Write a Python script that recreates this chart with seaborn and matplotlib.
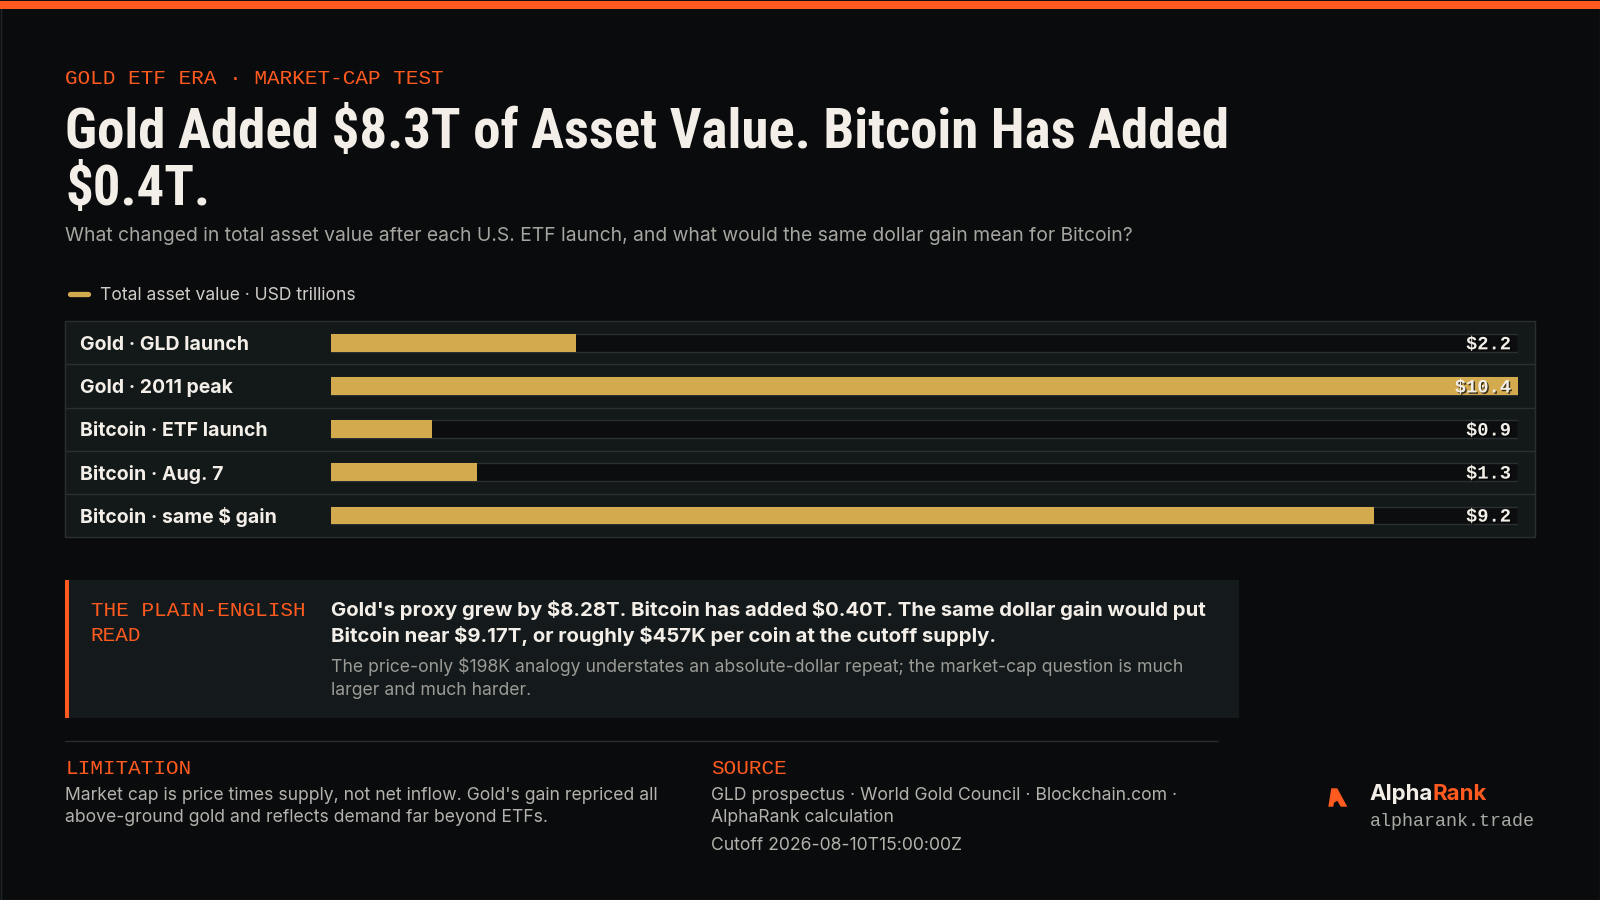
import matplotlib
matplotlib.use("Agg")
import numpy as np
import pandas as pd
import matplotlib.pyplot as plt
import matplotlib.patheffects as pe
from matplotlib import font_manager as fm
from matplotlib.patches import Rectangle, Polygon
import seaborn as sns

# ---- data (USD trillions) ----
rows = ["Gold · GLD launch", "Gold · 2011 peak", "Bitcoin · ETF launch",
        "Bitcoin · Aug. 7", "Bitcoin · same $ gain"]
values = [2.16, 10.44, 0.89, 1.29, 9.17]

kicker = "GOLD ETF ERA · MARKET-CAP TEST"
title_lines = ["Gold Added $8.3T of Asset Value. Bitcoin Has Added", "$0.4T."]
subtitle = ("What changed in total asset value after each U.S. ETF launch, "
            "and what would the same dollar gain mean for Bitcoin?")
legend_label = "Total asset value · USD trillions"
read_label = ["THE PLAIN-ENGLISH", "READ"]
read_bold = ["Gold's proxy grew by $8.28T. Bitcoin has added $0.40T. The same dollar gain would put",
             "Bitcoin near $9.17T, or roughly $457K per coin at the cutoff supply."]
read_note = ["The price-only $198K analogy understates an absolute-dollar repeat; the market-cap question is much",
             "larger and much harder."]
limitation = ["Market cap is price times supply, not net inflow. Gold's gain repriced all",
              "above-ground gold and reflects demand far beyond ETFs."]
source = ["GLD prospectus · World Gold Council · Blockchain.com ·", "AlphaRank calculation"]
cutoff = "Cutoff 2026-08-10T15:00:00Z"

# ---- style ----
BG = "#0a0b0d"
ORANGE = "#ff5a1f"
GOLD = "#d3aa4e"
PANEL = "#131819"
CALLOUT = "#141a1b"
LINE = "#2a2f31"
TRACK = "#0b0d0e"
INK = "#f3efe8"
MUTED = "#a6a6a1"
SOFT = "#cfcdc8"

sns.set_theme(style="dark")
installed = {f.name for f in fm.fontManager.ttflist}


def pick(*names):
    return next((n for n in names if n in installed), "DejaVu Sans")


SANS = pick("Inter", "Roboto", "Liberation Sans")
TITLE = pick("Liberation Sans Narrow", "Roboto Condensed", "Inter")
MONO = pick("Liberation Mono", "DejaVu Sans Mono")
plt.rcParams["font.family"] = [SANS, "DejaVu Sans"]

fig = plt.figure(figsize=(16, 9), dpi=100, facecolor=BG)
renderer = fig.canvas.get_renderer()

# full-figure layer in pixel coordinates (y down)
bg = fig.add_axes([0, 0, 1, 1])
bg.set_xlim(0, 1600)
bg.set_ylim(900, 0)
bg.axis("off")


def txt(x, y, s, size, color, family=SANS, weight="normal", va="center", ha="left"):
    return bg.text(x, y, s, fontsize=size, color=color, family=[family, "DejaVu Sans"],
                   fontweight=weight, va=va, ha=ha, parse_math=False)


def fit(t, width):
    w = t.get_window_extent(renderer).width
    t.set_fontsize(t.get_fontsize() * width / w)
    return t.get_fontsize()


# frame + top accent
bg.add_patch(Rectangle((0.5, 0.5), 1599, 899, fc="none", ec="#1f2729", lw=1))
bg.add_patch(Rectangle((0, 1), 1600, 8, fc=ORANGE, ec="none"))

# header
k = txt(65.3, 78.6, kicker, 15, ORANGE, family=MONO)
mono_size = fit(k, 377.6)
t1 = txt(65.3, 148, title_lines[0], 38, INK, family=TITLE, weight=800, va="baseline")
title_size = fit(t1, 1164)
txt(65.3, 205, title_lines[1], title_size, INK, family=TITLE, weight=800, va="baseline")
st = txt(65.3, 236, subtitle, 14, MUTED)
fit(st, 1070)

# legend
bg.plot([69.5, 87.5], [294, 294], color=GOLD, lw=3.8, solid_capstyle="round")
lg = txt(100, 295, legend_label, 12.5, SOFT)
fit(lg, 256)

# ---- bar chart ----
px_left, px_right, px_top, px_bot = 330.6, 1518.4, 321.4, 536.7
panel_left, panel_right = 65.3, 1534.7
bg.add_patch(Rectangle((panel_left, px_top), panel_right - panel_left, px_bot - px_top,
                       fc=PANEL, ec=LINE, lw=1))

ax = fig.add_axes([px_left / 1600, 1 - px_bot / 900,
                   (px_right - px_left) / 1600, (px_bot - px_top) / 900])
ax.set_facecolor("none")
df = pd.DataFrame({"row": rows, "value": values})
xmax = df["value"].max()
n = len(rows)

sns.barplot(df, x="value", y="row", orient="h", color=GOLD, saturation=1,
            width=0.4, linewidth=0, ax=ax)
ax.barh(np.arange(n), xmax, height=0.4, color=TRACK, edgecolor=LINE, lw=1, zorder=0.8)

ax.set_xlim(0, xmax)
ax.set_ylim(n - 0.5, -0.5)
ax.set_xlabel("")
ax.set_ylabel("")
ax.set_xticks([])
ax.grid(False)
for s in ax.spines.values():
    s.set_visible(False)

# row dividers across the whole panel
w = px_right - px_left
for i in range(1, n):
    ax.axhline(i - 0.5, xmin=(panel_left - px_left) / w, xmax=(panel_right - px_left) / w,
               color=LINE, lw=1, clip_on=False)

ax.tick_params(axis="y", length=0, pad=(px_left - 79.6) * 0.72)
for lab in ax.get_yticklabels():
    lab.set_ha("left")
    lab.set_fontweight("bold")
    lab.set_fontsize(14)
    lab.set_color(INK)
    lab.set_family([SANS, "DejaVu Sans"])

for i, v in enumerate(df["value"]):
    ax.annotate(f"${v:.1f}", xy=(xmax, i), xytext=(-5.3, -1.4), textcoords="offset points",
                ha="right", va="center", family=MONO, fontsize=13.5, color=INK,
                fontweight="bold",
                path_effects=[pe.withSimplePatchShadow(offset=(1, -1), shadow_rgbFace="black", alpha=0.7)])

# ---- callout ----
bg.add_patch(Rectangle((65.3, 579.6), 1173.5, 138.8, fc=CALLOUT, ec="none"))
bg.add_patch(Rectangle((65.3, 579.6), 4, 138.8, fc=ORANGE, ec="none"))
txt(90.8, 610.2, read_label[0], mono_size, ORANGE, family=MONO)
txt(90.8, 635.7, read_label[1], mono_size, ORANGE, family=MONO)
b1 = txt(330.6, 610, read_bold[0], 14, INK, weight="bold")
bold_size = fit(b1, 880)
txt(330.6, 635.5, read_bold[1], bold_size, INK, weight="bold")
n1 = txt(330.6, 666, read_note[0], 12.5, "#9b9b96")
note_size = fit(n1, 855)
txt(330.6, 690.5, read_note[1], note_size, "#9b9b96")

# ---- footer ----
bg.plot([65.3, 1218.4], [740.8, 740.8], color="#2a2d2f", lw=1)
txt(65.3, 768, "LIMITATION", mono_size, ORANGE, family=MONO)
txt(711.2, 768, "SOURCE", mono_size, ORANGE, family=MONO)
l1 = txt(65.3, 795.5, limitation[0], 12.5, "#b3b2ac")
foot_size = fit(l1, 593)
txt(65.3, 818, limitation[1], foot_size, "#b3b2ac")
txt(711.2, 795.5, source[0], foot_size, "#b3b2ac")
txt(711.2, 818, source[1], foot_size, "#b3b2ac")
txt(711.2, 845.5, cutoff, foot_size, "#b3b2ac")

# ---- brand ----
bg.add_patch(Polygon([(1331.3, 788.3), (1337.3, 788.3), (1347.3, 806.7), (1340.7, 806.7),
                      (1337.3, 800.7), (1334, 802.7), (1333.3, 806.7), (1328.3, 806.7)],
                     closed=True, fc=ORANGE, ec="none"))
a = txt(1369.4, 794.5, "Alpha", 16, INK, weight="bold")
aw = a.get_window_extent(renderer).width
txt(1369.4 + aw, 794.5, "Rank", 16, ORANGE, weight="bold")
txt(1369.4, 821, "alpharank.trade", 13.2, "#a9a9a4", family=MONO)

fig.savefig("out.png", dpi=100, facecolor=BG)
